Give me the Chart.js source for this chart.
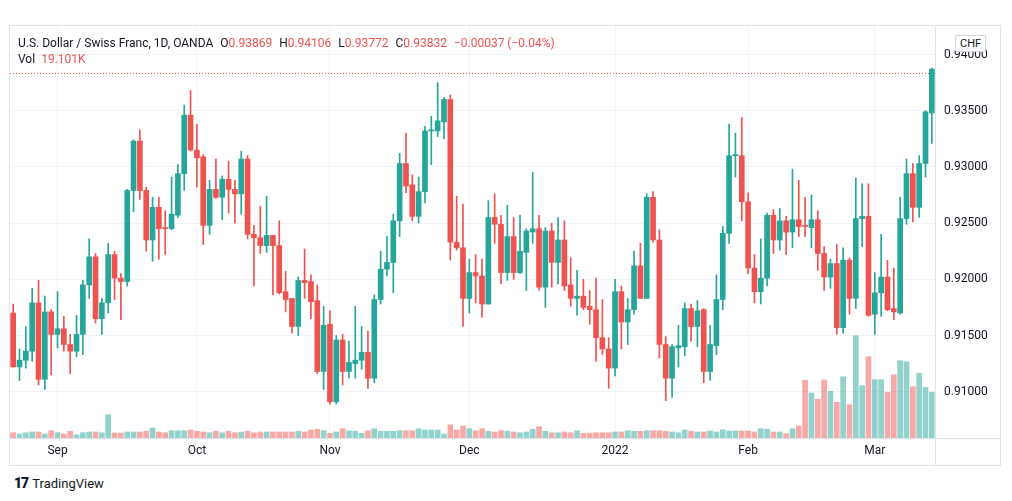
<!DOCTYPE html>
<html>
<head>
<meta charset="utf-8">
<script src="https://cdn.jsdelivr.net/npm/chart.js@4.4.1/dist/chart.umd.min.js"></script>
<style>
html,body{margin:0;padding:0;background:#fff;width:1012px;height:501px;overflow:hidden;font-family:Roboto,"Liberation Sans",sans-serif;color:#131722;}
#frame{position:absolute;left:9px;top:25px;width:992px;height:441px;border:1px solid #e0e3eb;box-sizing:border-box;}
#wrap{position:absolute;left:10px;top:26px;width:990px;height:439px;}
#hdr{position:absolute;left:18px;top:35px;font-size:12px;line-height:16px;white-space:nowrap;z-index:2;}
#hdr .g{margin-left:7px;}
#hdr .v{color:#ef5350;}
#chf{position:absolute;left:955px;top:35px;font-size:11px;line-height:13px;padding:1px 4px;border:1px solid #d1d4dc;border-radius:2px;background:#fff;z-index:2;}
#logo{position:absolute;left:14px;top:474px;font-size:13px;line-height:18px;white-space:nowrap;}
#logo b{font-weight:900;letter-spacing:-1px;margin-right:4px;font-size:14px;}
</style>
</head>
<body>
<div id="frame"></div>
<div id="wrap"><canvas id="c" width="990" height="439"></canvas></div>
<div id="hdr">
  <div id="line1"></div>
  <div id="line2"></div>
</div>
<div id="chf">CHF</div>
<div id="logo"><b>17</b>TradingView</div>
<script>
// ---------- DATA ----------
const startDate = '2021-08-23';
const opens  = [0.9170,0.9122,0.9128,0.9136,0.9179,0.9111,0.9171,0.9151,0.9156,0.9142,0.9136,0.9151,0.9195,0.9220,0.9165,0.9179,0.9222,0.9201,0.9198,0.9279,
0.9323,0.9279,0.9235,0.9264,0.9246,0.9245,0.9257,0.9294,0.9346,0.9315,0.9309,0.9248,0.9280,0.9273,0.9289,0.9280,0.9276,0.9307,0.9240,0.9237,
0.9230,0.9239,0.9230,0.9189,0.9183,0.9158,0.9199,0.9198,0.9181,0.9118,0.9160,0.9091,0.9146,0.9118,0.9125,0.9128,0.9135,0.9112,0.9182,0.9209,
0.9215,0.9252,0.9303,0.9284,0.9256,0.9278,0.9332,0.9332,0.9340,0.9360,0.9233,0.9228,0.9183,0.9206,0.9203,0.9178,0.9255,0.9249,0.9206,0.9238,
0.9206,0.9224,0.9242,0.9245,0.9193,0.9243,0.9215,0.9235,0.9195,0.9183,0.9185,0.9176,0.9173,0.9148,0.9138,0.9121,0.9189,0.9162,0.9173,0.9212,
0.9183,0.9273,0.9235,0.9142,0.9112,0.9139,0.9140,0.9174,0.9158,0.9173,0.9118,0.9141,0.9182,0.9241,0.9310,0.9310,0.9269,0.9210,0.9189,0.9201,
0.9257,0.9235,0.9252,0.9242,0.9253,0.9248,0.9246,0.9253,0.9223,0.9202,0.9214,0.9157,0.9217,0.9183,0.9254,0.9256,0.9169,0.9188,0.9202,0.9174,
0.9170,0.9254,0.9294,0.9264,0.9303,0.9348];
const highs  = [0.9178,0.9138,0.9158,0.9192,0.9199,0.9185,0.9173,0.9189,0.9167,0.9151,0.9168,0.9199,0.9236,0.9223,0.9183,0.9232,0.9225,0.9205,0.9280,0.9324,
0.9333,0.9282,0.9273,0.9273,0.9261,0.9291,0.9302,0.9355,0.9368,0.9338,0.9311,0.9288,0.9307,0.9292,0.9305,0.9288,0.9314,0.9310,0.9248,0.9265,
0.9274,0.9239,0.9252,0.9207,0.9183,0.9202,0.9227,0.9204,0.9195,0.9176,0.9172,0.9150,0.9151,0.9145,0.9176,0.9158,0.9154,0.9186,0.9225,0.9238,
0.9258,0.9312,0.9330,0.9293,0.9291,0.9336,0.9345,0.9375,0.9362,0.9364,0.9274,0.9267,0.9218,0.9222,0.9218,0.9270,0.9276,0.9257,0.9266,0.9255,
0.9257,0.9245,0.9295,0.9257,0.9246,0.9250,0.9255,0.9252,0.9219,0.9208,0.9200,0.9190,0.9201,0.9182,0.9148,0.9200,0.9194,0.9183,0.9225,0.9232,
0.9276,0.9278,0.9244,0.9149,0.9142,0.9159,0.9179,0.9178,0.9181,0.9174,0.9159,0.9204,0.9247,0.9338,0.9330,0.9344,0.9277,0.9222,0.9236,0.9259,
0.9262,0.9263,0.9256,0.9298,0.9288,0.9273,0.9275,0.9261,0.9229,0.9218,0.9231,0.9228,0.9219,0.9290,0.9285,0.9285,0.9206,0.9240,0.9217,0.9210,
0.9273,0.9307,0.9303,0.9310,0.9350,0.9388];
const lows   = [0.9122,0.9110,0.9121,0.9127,0.9106,0.9102,0.9115,0.9139,0.9136,0.9116,0.9131,0.9133,0.9183,0.9161,0.9151,0.9170,0.9182,0.9164,0.9194,0.9260,
0.9271,0.9225,0.9216,0.9218,0.9222,0.9244,0.9255,0.9279,0.9314,0.9282,0.9231,0.9240,0.9272,0.9253,0.9259,0.9250,0.9258,0.9236,0.9194,0.9223,
0.9224,0.9186,0.9187,0.9171,0.9152,0.9150,0.9183,0.9165,0.9116,0.9102,0.9089,0.9089,0.9106,0.9112,0.9112,0.9120,0.9103,0.9108,0.9178,0.9203,
0.9188,0.9238,0.9277,0.9252,0.9250,0.9268,0.9302,0.9327,0.9325,0.9217,0.9226,0.9158,0.9170,0.9179,0.9166,0.9178,0.9232,0.9196,0.9199,0.9200,
0.9205,0.9190,0.9232,0.9190,0.9175,0.9193,0.9196,0.9190,0.9176,0.9168,0.9173,0.9160,0.9127,0.9133,0.9103,0.9114,0.9138,0.9142,0.9169,0.9183,
0.9183,0.9233,0.9130,0.9092,0.9095,0.9122,0.9132,0.9145,0.9140,0.9108,0.9110,0.9133,0.9173,0.9232,0.9291,0.9252,0.9205,0.9179,0.9178,0.9194,
0.9223,0.9226,0.9222,0.9228,0.9238,0.9238,0.9228,0.9208,0.9190,0.9192,0.9151,0.9152,0.9169,0.9174,0.9229,0.9167,0.9151,0.9167,0.9172,0.9164,
0.9169,0.9249,0.9251,0.9255,0.9291,0.9321];
const closes = [0.9122,0.9128,0.9136,0.9179,0.9111,0.9171,0.9151,0.9156,0.9142,0.9136,0.9151,0.9195,0.9220,0.9165,0.9179,0.9222,0.9201,0.9198,0.9279,0.9323,
0.9279,0.9235,0.9264,0.9245,0.9245,0.9258,0.9294,0.9346,0.9315,0.9308,0.9248,0.9280,0.9273,0.9289,0.9280,0.9276,0.9307,0.9240,0.9237,0.9230,
0.9239,0.9230,0.9188,0.9182,0.9158,0.9199,0.9197,0.9180,0.9118,0.9159,0.9091,0.9146,0.9118,0.9126,0.9128,0.9135,0.9112,0.9182,0.9209,0.9215,
0.9252,0.9303,0.9283,0.9256,0.9278,0.9332,0.9333,0.9341,0.9360,0.9233,0.9228,0.9183,0.9206,0.9203,0.9178,0.9255,0.9249,0.9206,0.9238,0.9206,
0.9225,0.9243,0.9245,0.9193,0.9243,0.9215,0.9235,0.9194,0.9183,0.9185,0.9175,0.9173,0.9148,0.9138,0.9121,0.9189,0.9162,0.9173,0.9212,0.9183,
0.9273,0.9235,0.9142,0.9112,0.9140,0.9141,0.9174,0.9158,0.9172,0.9118,0.9142,0.9182,0.9241,0.9310,0.9311,0.9269,0.9210,0.9189,0.9201,0.9257,
0.9235,0.9252,0.9242,0.9253,0.9247,0.9247,0.9253,0.9223,0.9202,0.9214,0.9157,0.9217,0.9183,0.9254,0.9256,0.9168,0.9188,0.9202,0.9173,0.9171,
0.9254,0.9294,0.9264,0.9303,0.9349,0.9387];
const volumes = [2.1,1.6,2.1,2.4,2.4,1.6,2.9,2.1,1.6,2.7,1.3,2.1,2.4,2.4,2.1,9.3,2.0,2.0,2.4,2.4,
2.4,2.7,4.0,2.4,2.1,2.9,2.9,2.9,3.2,2.7,2.4,2.1,2.7,2.1,2.7,2.1,2.4,2.7,2.1,2.4,
2.4,2.4,2.4,2.4,2.4,2.7,2.4,3.2,3.5,2.9,1.9,2.4,3.7,2.9,2.7,1.9,2.9,3.7,2.7,2.7,
2.7,2.9,2.9,2.9,3.7,3.2,3.2,3.2,1.6,5.3,3.2,4.8,3.7,2.9,3.7,2.7,2.4,2.9,2.7,2.4,
2.1,2.4,3.5,4.5,2.7,2.1,2.1,2.4,2.1,2.9,1.9,1.9,2.1,2.1,2.1,2.4,2.4,2.9,2.7,2.7,
2.9,2.9,2.9,2.7,2.4,2.1,3.2,2.7,2.4,2.4,2.8,2.4,3.3,2.8,2.8,2.8,2.8,2.4,3.7,3.5,
2.4,2.4,1.7,3.7,4.8,23.1,18.0,15.5,23.2,18.7,14.3,24.5,13.3,40.9,20.9,32.5,23.3,23.3,18.3,25.3,
30.9,30.5,20.5,25.9,20.3,18.3];
const priceTicks = [0.910,0.915,0.920,0.925,0.930,0.935,0.940];
const monthTickLabels = {'2021-09':'Sep','2021-10':'Oct','2021-11':'Nov','2021-12':'Dec','2022-01':'2022','2022-02':'Feb','2022-03':'Mar'};
const seriesName = 'U.S. Dollar / Swiss Franc, 1D, OANDA';
const lastBar = {open:0.93869, high:0.94106, low:0.93772, close:0.93832, change:-0.00037, changePct:-0.04, volume:'19.101K'};

// ---------- CATEGORIES (trading days) ----------
function tradingDays(start, n){
  const out=[]; const d=new Date(start+'T00:00:00Z');
  while(out.length<n){ const wd=d.getUTCDay(); if(wd!==0&&wd!==6) out.push(d.toISOString().slice(0,10)); d.setUTCDate(d.getUTCDate()+1); }
  return out;
}
const categories = tradingDays(startDate, opens.length);
const monthTickIdx = [];
categories.forEach((c,i)=>{ const k=c.slice(0,7); if(monthTickLabels[k] && (i===0 || categories[i-1].slice(0,7)!==k)) monthTickIdx.push(i); });

// ---------- STYLE / LAYOUT ----------
const UP='#26a69a', DOWN='#ef5350', VUP='rgba(38,166,154,0.5)', VDOWN='rgba(239,83,80,0.5)';
const GRID='#f0f3fa', BORDER='#e0e3eb', TEXT='#131722';
const CANVAS_TOP=26, AREA_BOTTOM_PAGE=438;
const ANCHOR_PRICE=0.935, ANCHOR_Y=110.7, PX_PER_UNIT=11240;
const yMin = ANCHOR_PRICE - (AREA_BOTTOM_PAGE-ANCHOR_Y)/PX_PER_UNIT;
const yMax = ANCHOR_PRICE + (ANCHOR_Y-CANVAS_TOP)/PX_PER_UNIT;
const VOL_AXIS_MAX = 164.8;

const isUp = opens.map((o,i)=>closes[i]>=o);
const candleColors = isUp.map(u=>u?UP:DOWN);
const volColors = isUp.map(u=>u?VUP:VDOWN);

// header
const fmt=v=>v.toFixed(5);
const minus=s=>s.replace('-','\u2212');
document.getElementById('line1').innerHTML =
  '<span>'+seriesName+'</span>'+
  '<span class="g">O<span class="v">'+fmt(lastBar.open)+'</span></span>'+
  '<span class="g">H<span class="v">'+fmt(lastBar.high)+'</span></span>'+
  '<span class="g">L<span class="v">'+fmt(lastBar.low)+'</span></span>'+
  '<span class="g">C<span class="v">'+fmt(lastBar.close)+'</span></span>'+
  '<span class="g v">'+minus(fmt(lastBar.change))+' ('+minus(lastBar.changePct.toFixed(2))+'%)</span>';
document.getElementById('line2').innerHTML = '<span>Vol</span><span class="v" style="margin-left:6px">'+lastBar.volume+'</span>';

const frameLines = {
  id:'frameLines',
  beforeDatasetsDraw(chart){
    const ctx=chart.ctx, a=chart.chartArea, y=chart.scales.y.getPixelForValue(lastBar.close);
    ctx.save(); ctx.strokeStyle=DOWN; ctx.lineWidth=1; ctx.setLineDash([1,2]);
    ctx.beginPath(); ctx.moveTo(a.left, Math.round(y)+0.5); ctx.lineTo(a.right, Math.round(y)+0.5); ctx.stroke();
    ctx.restore();
  },
  afterDraw(chart){
    const ctx=chart.ctx, a=chart.chartArea;
    ctx.save(); ctx.strokeStyle=BORDER; ctx.lineWidth=1;
    ctx.beginPath();
    ctx.moveTo(Math.round(a.right)+0.5, 0); ctx.lineTo(Math.round(a.right)+0.5, chart.height);
    ctx.moveTo(0, Math.round(a.bottom)+0.5); ctx.lineTo(chart.width, Math.round(a.bottom)+0.5);
    ctx.stroke(); ctx.restore();
  }
};

new Chart(document.getElementById('c'), {
  type:'bar',
  data:{
    labels: categories,
    datasets:[
      {label:'body', data: opens.map((o,i)=>[o,closes[i]]), backgroundColor:candleColors, barThickness:5, minBarLength:1, grouped:false, order:0, yAxisID:'y'},
      {label:'wick', data: lows.map((l,i)=>[l,highs[i]]), backgroundColor:candleColors, barThickness:1, grouped:false, order:1, yAxisID:'y'},
      {label:'volume', data: volumes, backgroundColor:volColors, barThickness:5, grouped:false, order:2, yAxisID:'yv'}
    ]
  },
  options:{
    responsive:false, animation:false, devicePixelRatio:1,
    layout:{padding:0},
    plugins:{legend:{display:false}, tooltip:{enabled:false}},
    scales:{
      x:{
        offset:true,
        grid:{offset:false, color:GRID, drawTicks:false},
        border:{display:false},
        ticks:{autoSkip:false, maxRotation:0, color:TEXT, padding:6, font:{family:'Roboto', size:12},
          callback:(v)=>monthTickLabels[categories[v].slice(0,7)]},
        afterBuildTicks:(s)=>{ s.ticks = monthTickIdx.map(i=>({value:i})); },
        afterFit:(s)=>{ s.height=27; s.paddingLeft=0; s.paddingRight=0; }
      },
      y:{
        position:'right', min:yMin, max:yMax,
        grid:{color:GRID, drawTicks:false},
        border:{display:false},
        ticks:{color:TEXT, padding:9, font:{family:'Roboto', size:12}, callback:(v)=>v.toFixed(5)},
        afterBuildTicks:(s)=>{ s.ticks = priceTicks.map(v=>({value:v})); },
        afterFit:(s)=>{ s.width=65; s.paddingTop=0; s.paddingBottom=0; }
      },
      yv:{display:false, min:0, max:VOL_AXIS_MAX}
    }
  },
  plugins:[frameLines]
});
</script>
</body>
</html>
